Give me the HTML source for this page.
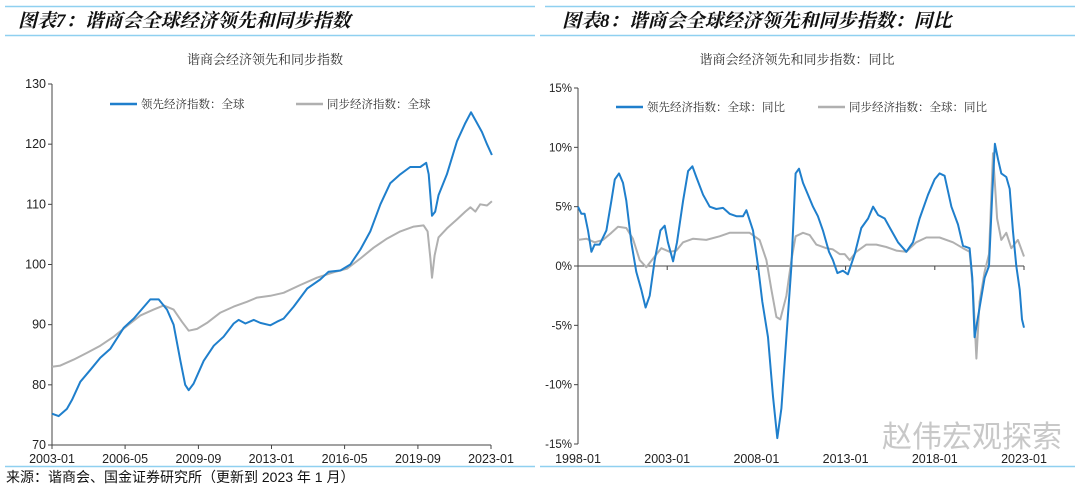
<!DOCTYPE html>
<html><head><meta charset="utf-8">
<style>
body{margin:0;background:#fff;width:1080px;height:489px;overflow:hidden;font-family:"Liberation Sans","Noto Sans CJK SC",sans-serif;}
svg{position:absolute;left:0;top:0}
</style></head>
<body>
<svg id="s" width="1080" height="489" xmlns="http://www.w3.org/2000/svg">
<line x1="5" y1="6.5" x2="535" y2="6.5" stroke="#8fd0f0" stroke-width="1.5"/>
<line x1="545" y1="6.5" x2="1075" y2="6.5" stroke="#8fd0f0" stroke-width="1.5"/>
<text x="18" y="27" font-size="19" font-weight="bold" font-style="italic" fill="#111" font-family="'Liberation Serif','Noto Serif CJK SC',serif">图表7：谐商会全球经济领先和同步指数</text>
<text x="562" y="27" font-size="19" font-weight="bold" font-style="italic" fill="#111" font-family="'Liberation Serif','Noto Serif CJK SC',serif">图表8：谐商会全球经济领先和同步指数：同比</text>
<line x1="5" y1="35.5" x2="535" y2="35.5" stroke="#8fd0f0" stroke-width="1.5"/>
<line x1="540" y1="35.5" x2="1075" y2="35.5" stroke="#8fd0f0" stroke-width="1.5"/>
<text x="265" y="64" font-size="13" fill="#333" text-anchor="middle" font-family="'Liberation Serif','Noto Serif CJK SC',serif">谐商会经济领先和同步指数</text>
<text x="797" y="64" font-size="13" fill="#333" text-anchor="middle" font-family="'Liberation Serif','Noto Serif CJK SC',serif">谐商会经济领先和同步指数：同比</text>
<g id="L"></g>
<g id="R"></g>
<text x="972" y="447" font-size="30" fill="#c8c8c8" text-anchor="middle">赵伟宏观探索</text>
<line x1="5" y1="466.5" x2="535" y2="466.5" stroke="#8fd0f0" stroke-width="1.5"/>
<line x1="540" y1="466.5" x2="1075" y2="466.5" stroke="#8fd0f0" stroke-width="1.5"/>
<text x="6" y="482" font-size="14" fill="#111">来源：谐商会、国金证券研究所（更新到 2023 年 1 月）</text>
</svg>
<script>
// Left chart data
const lLeadX=[2003.00,2003.30,2003.68,2003.91,2004.29,2004.75,2005.20,2005.66,2006.27,2006.72,2007.48,2007.86,2008.24,2008.54,2008.85,2009.07,2009.23,2009.45,2009.91,2010.37,2010.82,2011.28,2011.50,2011.81,2012.19,2012.49,2012.95,2013.25,2013.55,2014.01,2014.62,2015.22,2015.60,2016.14,2016.59,2017.05,2017.50,2017.96,2018.41,2018.87,2019.32,2019.78,2020.05,2020.16,2020.31,2020.46,2020.61,2020.99,2021.45,2021.83,2022.09,2022.29,2022.59,2022.82,2023.04];
const lLeadY=[75.2,74.8,76,77.5,80.5,82.5,84.5,86,89.5,91,94.2,94.2,92.5,90,84,80,79.1,80.2,84,86.5,88,90.2,90.8,90.2,90.8,90.3,89.9,90.5,91,93,96,97.5,98.8,99,100,102.5,105.5,110,113.5,115,116.2,116.2,116.9,115,108.1,108.8,111.5,115,120.5,123.5,125.3,124,122,120,118.2];
const lSyncX=[2003.00,2003.38,2003.99,2004.59,2005.20,2005.81,2006.42,2007.02,2007.63,2008.09,2008.54,2008.92,2009.23,2009.61,2010.06,2010.67,2011.28,2011.88,2012.34,2012.95,2013.55,2014.31,2015.07,2015.83,2016.44,2017.05,2017.65,2018.26,2018.87,2019.48,2019.93,2020.11,2020.24,2020.31,2020.43,2020.61,2020.99,2021.45,2021.83,2022.06,2022.29,2022.51,2022.82,2023.04];
const lSyncY=[83,83.2,84.2,85.3,86.5,88,89.8,91.5,92.5,93.2,92.5,90.5,89,89.3,90.3,92,93,93.8,94.5,94.8,95.3,96.6,97.8,98.7,99.3,101,102.8,104.3,105.5,106.3,106.5,105.5,101,97.8,101.5,104.5,106,107.5,108.8,109.5,108.8,110,109.8,110.5];
const lYTicks=[70,80,90,100,110,120,130];
const lXTicks=[2003.0,2006.33,2009.67,2013.0,2016.33,2019.67,2023.0];
const lXLabels=["2003-01","2006-05","2009-09","2013-01","2016-05","2019-09","2023-01"];
// Right chart data
const rLeadX=[1998.00,1998.19,1998.37,1998.56,1998.75,1998.93,1999.21,1999.59,1999.87,2000.06,2000.30,2000.52,2000.71,2000.99,2001.27,2001.55,2001.79,2002.02,2002.30,2002.62,2002.86,2003.04,2003.33,2003.55,2003.89,2004.17,2004.41,2004.63,2005.01,2005.38,2005.75,2006.13,2006.50,2006.88,2007.25,2007.44,2007.81,2008.09,2008.33,2008.65,2008.93,2009.17,2009.40,2009.68,2009.96,2010.20,2010.39,2010.61,2010.89,2011.17,2011.45,2011.73,2012.07,2012.29,2012.54,2012.85,2013.13,2013.51,2013.88,2014.26,2014.54,2014.82,2015.19,2015.56,2015.94,2016.40,2016.78,2017.15,2017.62,2017.99,2018.27,2018.55,2018.93,2019.30,2019.58,2019.95,2020.10,2020.23,2020.51,2020.79,2021.04,2021.22,2021.37,2021.54,2021.73,2022.01,2022.20,2022.38,2022.57,2022.76,2022.89,2023.00];
const rLeadY=[5,4.4,4.4,3,1.2,1.8,1.8,3,5.5,7.3,7.8,7,5.5,2,-0.5,-2,-3.5,-2.5,0.5,3,3.4,2,0.4,2,5.5,8,8.4,7.5,6,5,4.8,4.9,4.4,4.2,4.2,4.7,3,0,-3,-6,-11,-14.5,-12,-6,0,7.8,8.2,7,6,5,4.2,3,1.2,0.5,-0.6,-0.4,-0.7,1,3.2,4,5,4.3,4,3,2,1.2,2,4,6,7.3,7.8,7.6,5,3.5,1.7,1.5,-1,-6,-3.5,-1,0,6,10.3,9,7.8,7.5,6.5,3,0,-2,-4.5,-5.2];
const rSyncX=[1998.00,1998.47,1998.93,1999.40,1999.87,2000.24,2000.71,2001.08,2001.46,2001.83,2002.30,2002.67,2003.14,2003.51,2003.89,2004.45,2005.19,2005.94,2006.50,2007.06,2007.62,2008.18,2008.56,2008.84,2009.12,2009.34,2009.68,2009.96,2010.20,2010.61,2010.99,2011.36,2011.92,2012.29,2012.67,2012.95,2013.23,2013.60,2014.16,2014.72,2015.28,2015.84,2016.40,2016.96,2017.53,2018.27,2019.02,2019.58,2019.95,2020.14,2020.33,2020.51,2020.79,2021.04,2021.26,2021.49,2021.73,2022.01,2022.29,2022.66,2023.00];
const rSyncY=[2.2,2.3,2,2.2,2.8,3.3,3.2,2.3,0.5,-0.1,0.8,1.5,1.2,1.3,2,2.3,2.2,2.5,2.8,2.8,2.8,2.2,0.5,-2,-4.3,-4.5,-2.5,0.5,2.5,2.8,2.6,1.8,1.5,1.4,1,1,0.5,1.2,1.8,1.8,1.6,1.3,1.2,2,2.4,2.4,2,1.5,1.2,-2,-7.8,-3,-0.5,1,9.5,4,2.2,2.8,1.5,2.2,0.8];
const rYTicks=[-15,-10,-5,0,5,10,15];
const rYLabels=["-15%","-10%","-5%","0%","5%","10%","15%"];
const rXTicks=[1998,2003,2008,2013,2018,2023];
const rXLabels=["1998-01","2003-01","2008-01","2013-01","2018-01","2023-01"];

const NS="http://www.w3.org/2000/svg";
function mk(p,t,a){const e=document.createElementNS(NS,t);for(const k in a)e.setAttribute(k,a[k]);p.appendChild(e);return e;}
function chart(g,o){
  const sx=v=>o.x0+(v-o.xmin)/(o.xmax-o.xmin)*(o.x1-o.x0);
  const sy=v=>o.y0-(v-o.ymin)/(o.ymax-o.ymin)*(o.y0-o.y1);
  const ya=mk(g,'line',{x1:o.x0,y1:o.y1,x2:o.x0,y2:o.y0,stroke:'#444','stroke-width':1});
  
  
  o.yt.forEach((v,i)=>{
    const t=mk(g,'line',{x1:o.x0-4,x2:o.x0,y1:sy(v),y2:sy(v),stroke:'#444'});
    
    
    const l=mk(g,'text',{x:o.x0-6,y:sy(v)+4,'font-size':o.yfs,fill:'#222','text-anchor':'end'});
    l.textContent=o.yl?o.yl[i]:v;
    
    
  });
  const xa=mk(g,'line',{x1:o.x0,y1:sy(o.xAxisAt),x2:o.x1,y2:sy(o.xAxisAt),stroke:'#444','stroke-width':1});
  
  
  o.xt.forEach((v,i)=>{
    const t=mk(g,'line',{x1:sx(v),x2:sx(v),y1:sy(o.xAxisAt),y2:sy(o.xAxisAt)+4,stroke:'#444'});
    
    
    const l=mk(g,'text',{x:sx(v),y:o.xly,'font-size':12.5,fill:'#222','text-anchor':'middle'});
    l.textContent=o.xl[i];
    
    
  });
  o.series.forEach(s=>{
    const d=s.x.map((v,i)=>(i?'L':'M')+sx(v).toFixed(1)+','+sy(s.y[i]).toFixed(1)).join('');
    const p=mk(g,'path',{d:d,fill:'none',stroke:s.c,'stroke-width':2,'stroke-linejoin':'round'});
    
    
  });
  o.legend.forEach(e=>{
    const l=mk(g,'line',{x1:e.x,x2:e.x+27,y1:o.ly,y2:o.ly,stroke:e.c,'stroke-width':2.5});
    
    
    const t=mk(g,'text',{x:e.x+31,y:o.ly+4,'font-size':11.5,fill:'#333','font-family':"'Liberation Serif','Noto Serif CJK SC',serif"});
    t.textContent=e.t;
    
    
  });
}
chart(document.getElementById('L'),{x0:52,x1:491,xmin:2003,xmax:2023,y0:445,y1:84,ymin:70,ymax:130,yt:lYTicks,yfs:12.5,xt:lXTicks,xl:lXLabels,xAxisAt:70,xly:463,
  series:[{x:lSyncX,y:lSyncY,c:'#b0b0b0',n:'sync-index-line'},{x:lLeadX,y:lLeadY,c:'#1f7fcc',n:'leading-index-line'}],
  ly:104,legend:[{x:110,c:'#1f7fcc',t:'领先经济指数：全球'},{x:296,c:'#b0b0b0',t:'同步经济指数：全球'}]});
chart(document.getElementById('R'),{x0:578,x1:1024,xmin:1998,xmax:2023,y0:444,y1:88,ymin:-15,ymax:15,yt:rYTicks,yl:rYLabels,yfs:11.5,xt:rXTicks,xl:rXLabels,xAxisAt:0,xly:463,
  series:[{x:rSyncX,y:rSyncY,c:'#b0b0b0',n:'sync-yoy-line'},{x:rLeadX,y:rLeadY,c:'#1f7fcc',n:'leading-yoy-line'}],
  ly:107,legend:[{x:616,c:'#1f7fcc',t:'领先经济指数：全球：同比'},{x:818,c:'#b0b0b0',t:'同步经济指数：全球：同比'}]});
</script>
</body></html>
